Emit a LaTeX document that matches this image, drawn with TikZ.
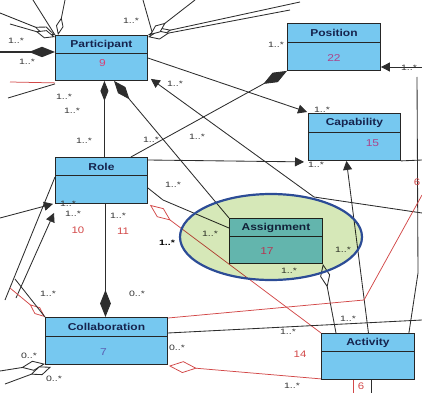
\documentclass[tikz,border=0pt]{standalone}
\usepackage{fontspec}
\setmainfont{Liberation Sans}
\newfontfamily\clsfont[FakeStretch=1.2]{Liberation Sans}
\newfontfamily\mulfont[FakeStretch=1.35]{Liberation Sans}
\usetikzlibrary{arrows.meta,calc}
\definecolor{clsblue}{RGB}{118,200,240}
\definecolor{ttl}{RGB}{22,36,78}
\definecolor{lnk}{RGB}{45,45,45}
\definecolor{redlnk}{RGB}{210,72,72}
\definecolor{hlfill}{RGB}{214,232,184}
\definecolor{hlborder}{RGB}{44,76,150}
\definecolor{numpink}{RGB}{214,64,118}
\definecolor{numpurple}{RGB}{170,70,140}
\definecolor{numblue}{RGB}{90,96,180}
\pgfdeclarelayer{links}
\pgfsetlayers{links,main}
\begin{document}
\begin{tikzpicture}[x=1pt,y=-1pt,
  cls/.style={draw=black!85,line width=0.9pt,fill=clsblue,inner sep=0pt,anchor=north west},
  sepline/.style={draw=black!85,line width=0.8pt},
  ttlnode/.style={font=\clsfont\bfseries\fontsize{10}{11}\selectfont,text=ttl,inner sep=0pt},
  numnode/.style={font=\clsfont\fontsize{10}{11}\selectfont,inner sep=0pt},
  lab/.style={font=\mulfont\fontsize{7.8}{8}\selectfont,text=black!80,inner sep=0pt},
  rlab/.style={font=\clsfont\fontsize{9.5}{10}\selectfont,text=redlnk,inner sep=0pt},
  conn/.style={draw=lnk,line width=0.85pt},
  redconn/.style={draw=redlnk,line width=0.75pt},
  comp/.style={-{Diamond[length=#1,width=0.4*#1]}},
  agg/.style={-{Diamond[open,length=#1,width=0.42*#1,fill=white]}},
  tri/.style={-{Triangle[length=9pt,width=9pt]}}]
\useasboundingbox (0,0) rectangle (422,393);

% ---------- class boxes ----------
\node[cls,minimum width=92pt,minimum height=45pt] (participant) at (55,35) {};
\node[cls,minimum width=93pt,minimum height=47pt] (position) at (287,23) {};
\node[cls,minimum width=92pt,minimum height=47pt] (capability) at (308,113) {};
\node[cls,minimum width=92pt,minimum height=46pt] (role) at (55,157) {};
\node[cls,minimum width=93pt,minimum height=45pt] (assignment) at (229,218) {};
\node[cls,minimum width=122pt,minimum height=47pt] (collab) at (45,317) {};
\node[cls,minimum width=93pt,minimum height=46pt] (activity) at (321,333) {};

\draw[sepline] ($(participant.north west)+(0,18)$) -- ($(participant.north east)+(0,18)$);
\draw[sepline] ($(position.north west)+(0,19)$) -- ($(position.north east)+(0,19)$);
\draw[sepline] ($(capability.north west)+(0,19)$) -- ($(capability.north east)+(0,19)$);
\draw[sepline] ($(role.north west)+(0,18)$) -- ($(role.north east)+(0,18)$);
\draw[sepline] ($(assignment.north west)+(0,18)$) -- ($(assignment.north east)+(0,18)$);
\draw[sepline] ($(collab.north west)+(0,19)$) -- ($(collab.north east)+(0,19)$);
\draw[sepline] ($(activity.north west)+(0,18)$) -- ($(activity.north east)+(0,18)$);

\node[ttlnode] (t-part) at ($(participant.north)+(0,9.5)$) {Participant};
\node[ttlnode] (t-pos) at ($(position.north)+(0,10)$) {Position};
\node[ttlnode] (t-cap) at ($(capability.north)+(0,10)$) {Capability};
\node[ttlnode] (t-role) at ($(role.north)+(0,9.5)$) {Role};
\node[ttlnode] (t-asg) at ($(assignment.north)+(0,9.5)$) {Assignment};
\node[ttlnode] (t-col) at ($(collab.north)+(0,10)$) {Collaboration};
\node[ttlnode] (t-act) at ($(activity.north)+(0,9.5)$) {Activity};

\node[numnode,text=numpink] (n-part) at ($(participant.north)+(1,28)$) {9};
\node[numnode,text=numpurple] (n-pos) at ($(position.north)+(0,35)$) {22};
\node[numnode,text=numpurple] (n-cap) at ($(capability.north)+(18,30)$) {15};
\node[numnode,text=numpink] (n-asg) at ($(assignment.north)+(-9,33)$) {17};
\node[numnode,text=numblue] (n-col) at ($(collab.north)+(-3,35)$) {7};

% ---------- connectors ----------
\begin{pgfonlayer}{links}
\coordinate (c-pl) at (0,52);
\coordinate (c-pr) at (10,82);
\coordinate (c-pb) at (8,98);
\coordinate (c-tl1) at (0,13);
\coordinate (c-tl2) at (10,24);
\coordinate (c-tl3) at (33,0);
\coordinate (c-tl4) at (65,0);
\coordinate (c-tr1) at (300,2);
\coordinate (c-tr2) at (290,10);
\coordinate (c-tr3) at (143,0);
\coordinate (c-tr4) at (195,0);
\coordinate (c-ce) at (422,160);
\coordinate (c-pe) at (422,67);
\coordinate (c-r1) at (417,77);
\coordinate (c-r2) at (418,273);
\coordinate (c-e2) at (422,213);
\coordinate (c-b2) at (314,197);
\coordinate (c-b3) at (163,200);
\coordinate (c-b5) at (364,300);
\coordinate (c-e3) at (422,195);
\coordinate (c-e4) at (422,320);
\coordinate (c-l1) at (0,218);
\coordinate (c-l2) at (16,298);
\coordinate (c-l3) at (5,300);
\coordinate (c-l6) at (10,288);
\coordinate (c-l7) at (15,279);
\coordinate (c-l8) at (0,371);
\coordinate (c-l9) at (5,384);
\coordinate (c-ab1) at (353,393);
\coordinate (c-ab2) at (371,393);

% links on the left of Participant
\draw[conn,line width=1.6pt,comp=26pt] (c-pl) -- ($(participant.north west)+(0,17)$);
\draw[redconn] (c-pr) -- ($(participant.south west)+(0,2)$);
\draw[conn] (c-pb) -- ($(participant.south west)+(0,3)$);
% aggregations on the top corners of Participant
\draw[conn,agg=22pt] (c-tl1) -- (participant.north west);
\draw[conn,agg=20pt] (c-tl2) -- ($(participant.north west)+(0,2)$);
\draw[conn] (c-tl3) -- (participant.north west);
\draw[conn,agg=18pt] (c-tl4) -- ($(participant.north west)+(3,0)$);
\draw[conn,agg=24pt] (c-tr1) -- (participant.north east);
\draw[conn,agg=22pt] (c-tr2) -- ($(participant.north east)+(0,2)$);
\draw[conn] (c-tr3) -- ($(participant.north east)+(5,0)$);
\draw[conn,agg=20pt] (c-tr4) -- ($(participant.north east)+(2,0)$);

% Participant / Role / Position / Capability
\draw[conn,tri] ($(participant.north east)+(0,23)$) -- ($(capability.north west)+(-1,-1)$);
\draw[conn,comp=27pt] ($(role.north east)+(-17,0)$) -- (position.south west);
\draw[conn,tri] ($(role.north east)+(0,3)$) -- ($(capability.south west)+(-4,1)$);
\draw[conn] (capability.south east) -- (c-ce);
\draw[conn,tri] (c-pe) -- ($(position.north east)+(0,44)$);
\draw[conn] (c-r1) -- (c-r2) -- ($(activity.north east)+(-6,0)$);
\draw[conn,tri] ($(activity.north)+(0.5,0)$) -- ($(capability.south)+(-8,0)$);
\draw[conn,comp=20pt] ($(role.north)+(3,0)$) -- ($(participant.south)+(3,0)$);
\draw[conn,comp=24pt] (assignment.north west) -- ($(participant.south west)+(59,0)$);
\draw[conn,tri] (c-e2) -- (c-b2) -- ($(participant.south east)+(3,-2)$);
\draw[conn] ($(role.north east)+(0,31)$) -- (c-b3) -- ($(assignment.north west)+(0,10)$);
\draw[redconn,agg=26pt] (activity.north west) -- ($(role.south east)+(2,1)$);
\draw[conn,agg=24pt] ($(activity.north west)+(15,0)$) -- (assignment.south east);

% Role and Collaboration
\draw[conn,comp=27pt] ($(role.south)+(4,0)$) -- ($(collab.north)+(-1,0)$);
\draw[conn,tri] (c-l1) -- ($(role.south west)+(-2,0)$);
\draw[conn,tri] (c-l2) -- ($(role.south west)+(-1,9)$);
\draw[conn] ($(role.north west)+(0,20)$) -- (c-l3);
\draw[redconn,agg=20pt] (c-l6) -- (collab.north west);
\draw[conn] (c-l7) -- (collab.north west);
\draw[conn,agg=24pt] (c-l8) -- ($(collab.south west)+(0,-1)$);
\draw[conn,agg=22pt] (c-l9) -- ($(collab.south west)+(6,2)$);

% Collaboration and Activity
\draw[redconn] ($(collab.north east)+(0,1)$) -- (c-b5) -- (c-e3);
\draw[conn] ($(collab.north east)+(0,16)$) -- (c-e4);
\draw[redconn,agg=28pt] ($(activity.south west)+(0,-1)$) -- ($(collab.south east)+(1,1)$);
\draw[redconn] ($(activity.south west)+(32,0)$) -- (c-ab1);
\draw[conn] ($(activity.south west)+(50,0)$) -- (c-ab2);
\end{pgfonlayer}

% ---------- multiplicities and association numbers ----------
\node[lab] (m1) at (16,41) {1..*};
\node[lab] (m2) at (27,62) {1..*};
\node[lab] (m3) at (131,21) {1..*};
\node[lab] (m4) at (175,84) {1..*};
\node[lab] (m5) at (64,97) {1..*};
\node[lab] (m6) at (72,111) {1..*};
\node[lab] (m7) at (84,141) {1..*};
\node[lab] (m8) at (151,140) {1..*};
\node[lab] (m9) at (197,137) {1..*};
\node[lab] (m10) at (276,45) {1..*};
\node[lab] (m11) at (409,68) {1..*};
\node[lab] (m12) at (322,110) {1..*};
\node[lab] (m13) at (316,165) {1..*};
\node[lab] (m14) at (173,185) {1..*};
\node[lab] (m15) at (210,234) {1..*};
\node[lab,text=black] (m16) at (167,243) {\bfseries 1..*};
\node[lab] (m17) at (343,250) {1..*};
\node[lab] (m18) at (289,271) {1..*};
\node[lab] (m19) at (68,204) {1..*};
\node[lab] (m20) at (73,214) {1..*};
\node[lab] (m21) at (118,216) {1..*};
\node[lab] (m22) at (48,294) {1..*};
\node[lab] (m23) at (137,294) {0..*};
\node[lab] (m24) at (177,348) {0..*};
\node[lab] (m25) at (29,356) {0..*};
\node[lab] (m26) at (54,379) {0..*};
\node[lab] (m27) at (288,332) {1..*};
\node[lab] (m28) at (348,319) {1..*};
\node[lab] (m29) at (292,386) {1..*};
\node[rlab] (r10) at (78,230) {10};
\node[rlab] (r11) at (123,231) {11};
\node[rlab] (r14) at (300,354) {14};
\node[rlab] (r6a) at (417,182) {6};
\node[rlab] (r6b) at (361,386) {6};

% ---------- highlight around Assignment ----------
\begin{scope}[blend mode=multiply]
\fill[hlfill] (271,237) ellipse [x radius=91, y radius=43];
\end{scope}
\draw[hlborder,line width=2.2pt] (271,237) ellipse [x radius=91, y radius=43];
\end{tikzpicture}
\end{document}
